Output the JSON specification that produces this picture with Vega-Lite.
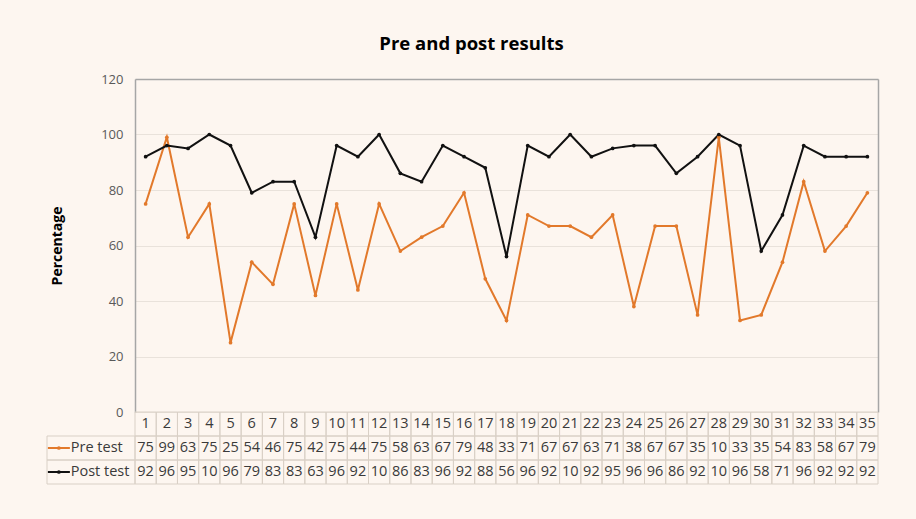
{
  "$schema": "https://vega.github.io/schema/vega-lite/v6.json",
  "background": "#fdf6f0",
  "padding": {"left": 46, "top": 34, "right": 37, "bottom": 35},
  "title": {"text": "Pre and post results", "font": "Open Sans", "fontSize": 18.5, "fontWeight": "bold", "color": "#000000", "anchor": "middle", "offset": 20, "dx": 9},
  "datasets": {
    "scores": [
      {"n": 1, "series": "Pre test", "value": 75, "label": "75"},
      {"n": 2, "series": "Pre test", "value": 99, "label": "99"},
      {"n": 3, "series": "Pre test", "value": 63, "label": "63"},
      {"n": 4, "series": "Pre test", "value": 75, "label": "75"},
      {"n": 5, "series": "Pre test", "value": 25, "label": "25"},
      {"n": 6, "series": "Pre test", "value": 54, "label": "54"},
      {"n": 7, "series": "Pre test", "value": 46, "label": "46"},
      {"n": 8, "series": "Pre test", "value": 75, "label": "75"},
      {"n": 9, "series": "Pre test", "value": 42, "label": "42"},
      {"n": 10, "series": "Pre test", "value": 75, "label": "75"},
      {"n": 11, "series": "Pre test", "value": 44, "label": "44"},
      {"n": 12, "series": "Pre test", "value": 75, "label": "75"},
      {"n": 13, "series": "Pre test", "value": 58, "label": "58"},
      {"n": 14, "series": "Pre test", "value": 63, "label": "63"},
      {"n": 15, "series": "Pre test", "value": 67, "label": "67"},
      {"n": 16, "series": "Pre test", "value": 79, "label": "79"},
      {"n": 17, "series": "Pre test", "value": 48, "label": "48"},
      {"n": 18, "series": "Pre test", "value": 33, "label": "33"},
      {"n": 19, "series": "Pre test", "value": 71, "label": "71"},
      {"n": 20, "series": "Pre test", "value": 67, "label": "67"},
      {"n": 21, "series": "Pre test", "value": 67, "label": "67"},
      {"n": 22, "series": "Pre test", "value": 63, "label": "63"},
      {"n": 23, "series": "Pre test", "value": 71, "label": "71"},
      {"n": 24, "series": "Pre test", "value": 38, "label": "38"},
      {"n": 25, "series": "Pre test", "value": 67, "label": "67"},
      {"n": 26, "series": "Pre test", "value": 67, "label": "67"},
      {"n": 27, "series": "Pre test", "value": 35, "label": "35"},
      {"n": 28, "series": "Pre test", "value": 99, "label": "10"},
      {"n": 29, "series": "Pre test", "value": 33, "label": "33"},
      {"n": 30, "series": "Pre test", "value": 35, "label": "35"},
      {"n": 31, "series": "Pre test", "value": 54, "label": "54"},
      {"n": 32, "series": "Pre test", "value": 83, "label": "83"},
      {"n": 33, "series": "Pre test", "value": 58, "label": "58"},
      {"n": 34, "series": "Pre test", "value": 67, "label": "67"},
      {"n": 35, "series": "Pre test", "value": 79, "label": "79"},
      {"n": 1, "series": "Post test", "value": 92, "label": "92"},
      {"n": 2, "series": "Post test", "value": 96, "label": "96"},
      {"n": 3, "series": "Post test", "value": 95, "label": "95"},
      {"n": 4, "series": "Post test", "value": 100, "label": "10"},
      {"n": 5, "series": "Post test", "value": 96, "label": "96"},
      {"n": 6, "series": "Post test", "value": 79, "label": "79"},
      {"n": 7, "series": "Post test", "value": 83, "label": "83"},
      {"n": 8, "series": "Post test", "value": 83, "label": "83"},
      {"n": 9, "series": "Post test", "value": 63, "label": "63"},
      {"n": 10, "series": "Post test", "value": 96, "label": "96"},
      {"n": 11, "series": "Post test", "value": 92, "label": "92"},
      {"n": 12, "series": "Post test", "value": 100, "label": "10"},
      {"n": 13, "series": "Post test", "value": 86, "label": "86"},
      {"n": 14, "series": "Post test", "value": 83, "label": "83"},
      {"n": 15, "series": "Post test", "value": 96, "label": "96"},
      {"n": 16, "series": "Post test", "value": 92, "label": "92"},
      {"n": 17, "series": "Post test", "value": 88, "label": "88"},
      {"n": 18, "series": "Post test", "value": 56, "label": "56"},
      {"n": 19, "series": "Post test", "value": 96, "label": "96"},
      {"n": 20, "series": "Post test", "value": 92, "label": "92"},
      {"n": 21, "series": "Post test", "value": 100, "label": "10"},
      {"n": 22, "series": "Post test", "value": 92, "label": "92"},
      {"n": 23, "series": "Post test", "value": 95, "label": "95"},
      {"n": 24, "series": "Post test", "value": 96, "label": "96"},
      {"n": 25, "series": "Post test", "value": 96, "label": "96"},
      {"n": 26, "series": "Post test", "value": 86, "label": "86"},
      {"n": 27, "series": "Post test", "value": 92, "label": "92"},
      {"n": 28, "series": "Post test", "value": 100, "label": "10"},
      {"n": 29, "series": "Post test", "value": 96, "label": "96"},
      {"n": 30, "series": "Post test", "value": 58, "label": "58"},
      {"n": 31, "series": "Post test", "value": 71, "label": "71"},
      {"n": 32, "series": "Post test", "value": 96, "label": "96"},
      {"n": 33, "series": "Post test", "value": 92, "label": "92"},
      {"n": 34, "series": "Post test", "value": 92, "label": "92"},
      {"n": 35, "series": "Post test", "value": 92, "label": "92"}
    ]
  },
  "columns": 2,
  "spacing": 0,
  "bounds": "flush",
  "concat": [
    {
      "width": 88,
      "height": 333,
      "data": {"values": []},
      "mark": {"type": "point", "opacity": 0}
    },
    {
      "width": 743,
      "height": 333,
      "data": {"name": "scores"},
      "encoding": {
        "x": {"field": "n", "type": "ordinal", "scale": {"type": "point", "padding": 0.5},
              "axis": {"orient": "top", "labels": false, "ticks": false, "grid": false, "domain": true, "domainColor": "#a6a6a6", "domainWidth": 1.5, "title": null}},
        "color": {"field": "series", "type": "nominal", "scale": {"domain": ["Pre test", "Post test"], "range": ["#e2792b", "#111111"]}, "legend": null}
      },
      "layer": [
        {
          "mark": {"type": "line", "strokeWidth": 2, "point": {"filled": true, "size": 14, "opacity": 1}},
          "encoding": {
            "y": {"field": "value", "type": "quantitative", "scale": {"domain": [0, 120]},
                  "axis": {"values": [0, 20, 40, 60, 80, 100, 120], "grid": true, "gridColor": "#e9e2db", "domainColor": "#a6a6a6", "domainWidth": 1.5, "ticks": false,
                           "labelFont": "Open Sans", "labelFontSize": 13, "labelColor": "#595959", "labelPadding": 12,
                           "title": "Percentage", "titleFont": "Open Sans", "titleFontSize": 14, "titleFontWeight": "bold", "titleColor": "#000000", "titlePadding": 36}}
          }
        },
        {
          "mark": {"type": "point", "opacity": 0},
          "encoding": {
            "y": {"field": "value", "type": "quantitative", "scale": {"domain": [0, 120]},
                  "axis": {"orient": "right", "labels": false, "ticks": false, "grid": false, "domainColor": "#a6a6a6", "domainWidth": 1.5, "title": null}}
          }
        }
      ],
      "resolve": {"axis": {"y": "independent"}}
    },
    {
      "width": 88,
      "height": 72,
      "data": {"name": "scores"},
      "transform": [{"filter": {"field": "n", "equal": 1}}],
      "layer": [
        {
          "mark": {"type": "rect", "fillOpacity": 0, "stroke": "#d9d0c6", "strokeWidth": 1},
          "encoding": {
            "y": {"field": "series", "type": "nominal", "scale": {"domain": ["#", "Pre test", "Post test"], "paddingInner": 0, "paddingOuter": 0}, "axis": null}
          }
        },
        {
          "mark": {"type": "rule", "strokeWidth": 2},
          "encoding": {
            "y": {"field": "series", "type": "nominal", "scale": {"domain": ["#", "Pre test", "Post test"], "paddingInner": 0, "paddingOuter": 0}, "axis": null},
            "x": {"datum": 0.01, "type": "quantitative", "scale": {"domain": [0, 1], "nice": false}, "axis": null},
            "x2": {"datum": 0.26},
            "color": {"field": "series", "type": "nominal", "scale": {"domain": ["Pre test", "Post test"], "range": ["#e2792b", "#111111"]}, "legend": null}
          }
        },
        {
          "mark": {"type": "point", "filled": true, "size": 14, "opacity": 1},
          "encoding": {
            "y": {"field": "series", "type": "nominal", "scale": {"domain": ["#", "Pre test", "Post test"], "paddingInner": 0, "paddingOuter": 0}, "axis": null},
            "x": {"datum": 0.135, "type": "quantitative", "scale": {"domain": [0, 1], "nice": false}, "axis": null},
            "color": {"field": "series", "type": "nominal", "scale": {"domain": ["Pre test", "Post test"], "range": ["#e2792b", "#111111"]}, "legend": null}
          }
        },
        {
          "mark": {"type": "text", "align": "left", "baseline": "middle", "font": "Open Sans", "fontSize": 14.5, "color": "#3a3a3a"},
          "encoding": {
            "y": {"field": "series", "type": "nominal", "scale": {"domain": ["#", "Pre test", "Post test"], "paddingInner": 0, "paddingOuter": 0}, "axis": null},
            "x": {"datum": 0.27, "type": "quantitative", "scale": {"domain": [0, 1], "nice": false}, "axis": null},
            "text": {"field": "series", "type": "nominal"}
          }
        }
      ]
    },
    {
      "width": 743,
      "height": 72,
      "data": {"name": "scores"},
      "encoding": {
        "x": {"field": "n", "type": "ordinal", "scale": {"type": "band", "paddingInner": 0, "paddingOuter": 0}, "axis": null}
      },
      "layer": [
        {
          "mark": {"type": "rect", "fillOpacity": 0, "stroke": "#d9d0c6", "strokeWidth": 1},
          "encoding": {
            "y": {"field": "series", "type": "nominal", "scale": {"domain": ["#", "Pre test", "Post test"], "paddingInner": 0, "paddingOuter": 0}, "axis": null}
          }
        },
        {
          "transform": [{"filter": {"field": "series", "equal": "Pre test"}}],
          "mark": {"type": "rect", "fillOpacity": 0, "stroke": "#d9d0c6", "strokeWidth": 1},
          "encoding": {
            "y": {"datum": "#", "type": "nominal", "scale": {"domain": ["#", "Pre test", "Post test"], "paddingInner": 0, "paddingOuter": 0}, "axis": null}
          }
        },
        {
          "mark": {"type": "text", "baseline": "middle", "font": "Open Sans", "fontSize": 14.5, "color": "#3a3a3a"},
          "encoding": {
            "y": {"field": "series", "type": "nominal", "scale": {"domain": ["#", "Pre test", "Post test"], "paddingInner": 0, "paddingOuter": 0}, "axis": null},
            "text": {"field": "label", "type": "nominal"}
          }
        },
        {
          "transform": [{"filter": {"field": "series", "equal": "Pre test"}}],
          "mark": {"type": "text", "baseline": "middle", "font": "Open Sans", "fontSize": 14.5, "color": "#3a3a3a"},
          "encoding": {
            "y": {"datum": "#", "type": "nominal", "scale": {"domain": ["#", "Pre test", "Post test"], "paddingInner": 0, "paddingOuter": 0}, "axis": null},
            "text": {"field": "n", "type": "nominal"}
          }
        }
      ]
    }
  ],
  "config": {"view": {"stroke": null}, "font": "Open Sans"}
}
